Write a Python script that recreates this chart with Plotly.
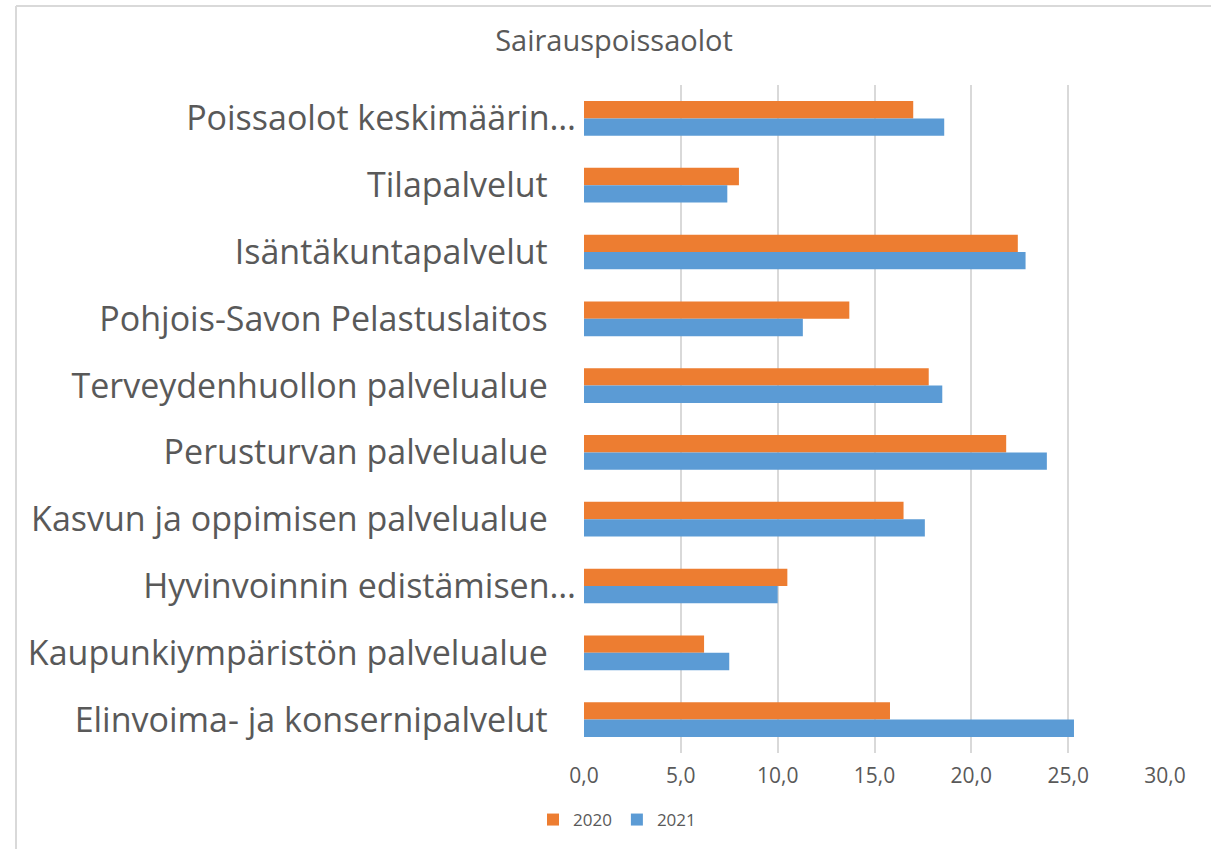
import plotly.graph_objects as go

categories = [
    "Poissaolot keskimäärin…",
    "Tilapalvelut",
    "Isäntäkuntapalvelut",
    "Pohjois-Savon Pelastuslaitos",
    "Terveydenhuollon palvelualue",
    "Perusturvan palvelualue",
    "Kasvun ja oppimisen palvelualue",
    "Hyvinvoinnin edistämisen…",
    "Kaupunkiympäristön palvelualue",
    "Elinvoima- ja konsernipalvelut",
]
values_2020 = [17.0, 8.0, 22.4, 13.7, 17.8, 21.8, 16.5, 10.5, 6.2, 15.8]
values_2021 = [18.6, 7.4, 22.8, 11.3, 18.5, 23.9, 17.6, 10.0, 7.5, 25.3]
tick_values = [0, 5, 10, 15, 20, 25, 30]
tick_labels = ["0,0", "5,0", "10,0", "15,0", "20,0", "25,0", "30,0"]

ORANGE = "#ED7D31"
BLUE = "#5B9BD5"
GREY_TEXT = "#595959"
GRID = "#D9D9D9"

W, H = 1217, 849
L, R, T, B = 584, 52, 85, 96
PW = W - L - R
PH = H - T - B

# pad non-truncated labels so they end further from the axis, as in the source
pad = "\u2007\u00a0"
ticktext = [c if c.endswith("…") else c + pad for c in categories]

fig = go.Figure()
fig.add_trace(go.Bar(
    y=categories, x=values_2020, name="2020", orientation="h",
    marker=dict(color=ORANGE, line=dict(width=0)),
))
fig.add_trace(go.Bar(
    y=categories, x=values_2021, name="2021", orientation="h",
    marker=dict(color=BLUE, line=dict(width=0)),
))

fig.update_layout(
    width=W, height=H,
    paper_bgcolor="white", plot_bgcolor="white",
    barmode="group", bargap=0.48, bargroupgap=0,
    margin=dict(l=L, r=R, t=T, b=B),
    font=dict(family="Open Sans", color=GREY_TEXT),
    title=dict(
        text="Sairauspoissaolot", x=614 / W, xanchor="center",
        y=1 - 41 / H, yanchor="middle", yref="container",
        font=dict(size=29, color=GREY_TEXT, family="Open Sans"),
    ),
    showlegend=True,
    legend=dict(
        orientation="h", xref="container", yref="container",
        x=617 / W, xanchor="center", y=1 - 820 / H, yanchor="middle",
        font=dict(size=17, color=GREY_TEXT),
        itemwidth=30, traceorder="normal",
    ),
    xaxis=dict(
        range=[0, 30], tickvals=tick_values, ticktext=tick_labels,
        showgrid=True, gridcolor=GRID, gridwidth=1.5,
        zeroline=False, showline=False, ticks="",
        tickfont=dict(size=21, color=GREY_TEXT),
        ticklabelstandoff=8, fixedrange=True,
    ),
    yaxis=dict(
        autorange="reversed", tickmode="array",
        tickvals=categories, ticktext=ticktext,
        showgrid=False, zeroline=False, showline=False, ticks="",
        tickfont=dict(size=34, color=GREY_TEXT),
        ticklabelstandoff=7, fixedrange=True,
    ),
    shapes=[
        dict(type="line", xref="paper", yref="paper",
             x0=(16 - L) / PW, x1=(16 - L) / PW,
             y0=(T + PH - 6) / PH, y1=-B / PH,
             line=dict(color=GRID, width=2)),
        dict(type="line", xref="paper", yref="paper",
             x0=(16 - L) / PW, x1=(1211 - L) / PW,
             y0=(T + PH - 6) / PH, y1=(T + PH - 6) / PH,
             line=dict(color=GRID, width=2)),
    ],
)

fig.write_html(
    "out.html",
    config={"displayModeBar": False},
    post_script="document.body.style.margin='0';",
)
